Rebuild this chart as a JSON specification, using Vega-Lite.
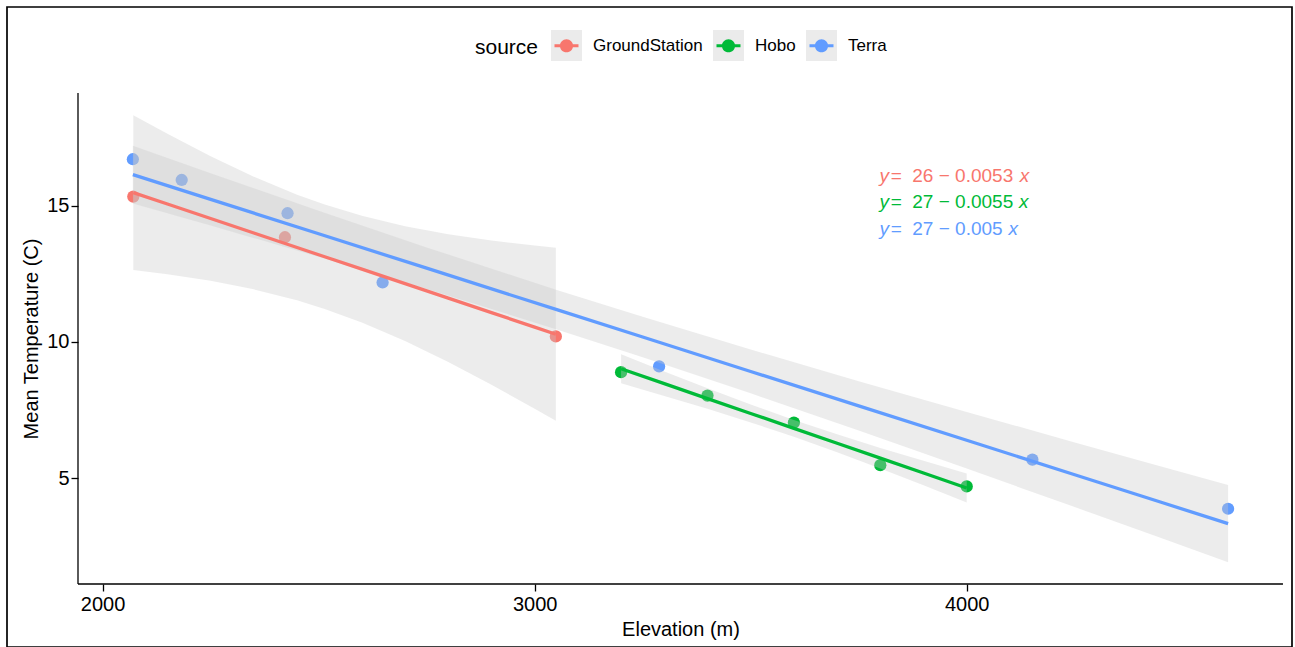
{
  "$schema": "https://vega.github.io/schema/vega-lite/v6.json",
  "width": 1285,
  "height": 640,
  "autosize": {"type": "none"},
  "padding": {"left": 7, "top": 7, "right": 3, "bottom": 0},
  "background": "white",
  "config": {
    "view": {"stroke": "black", "strokeWidth": 1.7},
    "font": "Liberation Sans",
    "axis": {
      "grid": false,
      "domain": false,
      "ticks": true,
      "tickColor": "black",
      "tickWidth": 1.3,
      "tickSize": 7,
      "labelFontSize": 20,
      "labelColor": "black",
      "labelFlush": false,
      "titleFontSize": 20,
      "titleFontWeight": "normal",
      "titleColor": "black"
    }
  },
  "datasets": {
    "points": [
      {"source": "GroundStation", "elevation": 2071, "temp": 15.33},
      {"source": "GroundStation", "elevation": 2422, "temp": 13.84},
      {"source": "GroundStation", "elevation": 3049, "temp": 10.2},
      {"source": "Hobo", "elevation": 3200, "temp": 8.89},
      {"source": "Hobo", "elevation": 3400, "temp": 8.03},
      {"source": "Hobo", "elevation": 3600, "temp": 7.04},
      {"source": "Hobo", "elevation": 3800, "temp": 5.48},
      {"source": "Hobo", "elevation": 4000, "temp": 4.7},
      {"source": "Terra", "elevation": 2070, "temp": 16.7},
      {"source": "Terra", "elevation": 2183, "temp": 15.94},
      {"source": "Terra", "elevation": 2428, "temp": 14.72},
      {"source": "Terra", "elevation": 2648, "temp": 12.18},
      {"source": "Terra", "elevation": 3288, "temp": 9.1},
      {"source": "Terra", "elevation": 4152, "temp": 5.68},
      {"source": "Terra", "elevation": 4605, "temp": 3.88}
    ],
    "fits": [
      {"source": "GroundStation", "elevation": 2071, "fit": 15.476, "lo": 12.637, "hi": 18.315},
      {"source": "GroundStation", "elevation": 2150, "fit": 15.057, "lo": 12.481, "hi": 17.633},
      {"source": "GroundStation", "elevation": 2250, "fit": 14.525, "lo": 12.239, "hi": 16.811},
      {"source": "GroundStation", "elevation": 2350, "fit": 13.994, "lo": 11.928, "hi": 16.06},
      {"source": "GroundStation", "elevation": 2450, "fit": 13.463, "lo": 11.525, "hi": 15.401},
      {"source": "GroundStation", "elevation": 2514, "fit": 13.123, "lo": 11.208, "hi": 15.038},
      {"source": "GroundStation", "elevation": 2600, "fit": 12.667, "lo": 10.71, "hi": 14.624},
      {"source": "GroundStation", "elevation": 2700, "fit": 12.136, "lo": 10.029, "hi": 14.243},
      {"source": "GroundStation", "elevation": 2800, "fit": 11.604, "lo": 9.259, "hi": 13.949},
      {"source": "GroundStation", "elevation": 2900, "fit": 11.073, "lo": 8.427, "hi": 13.719},
      {"source": "GroundStation", "elevation": 3000, "fit": 10.542, "lo": 7.549, "hi": 13.535},
      {"source": "GroundStation", "elevation": 3049, "fit": 10.282, "lo": 7.108, "hi": 13.456},
      {"source": "Hobo", "elevation": 3200, "fit": 9.014, "lo": 8.48, "hi": 9.548},
      {"source": "Hobo", "elevation": 3300, "fit": 8.468, "lo": 8.019, "hi": 8.917},
      {"source": "Hobo", "elevation": 3400, "fit": 7.921, "lo": 7.544, "hi": 8.298},
      {"source": "Hobo", "elevation": 3500, "fit": 7.375, "lo": 7.048, "hi": 7.702},
      {"source": "Hobo", "elevation": 3600, "fit": 6.828, "lo": 6.52, "hi": 7.136},
      {"source": "Hobo", "elevation": 3700, "fit": 6.282, "lo": 5.955, "hi": 6.609},
      {"source": "Hobo", "elevation": 3800, "fit": 5.735, "lo": 5.358, "hi": 6.112},
      {"source": "Hobo", "elevation": 3900, "fit": 5.189, "lo": 4.74, "hi": 5.638},
      {"source": "Hobo", "elevation": 4000, "fit": 4.642, "lo": 4.108, "hi": 5.176},
      {"source": "Terra", "elevation": 2070, "fit": 16.138, "lo": 15.08, "hi": 17.196},
      {"source": "Terra", "elevation": 2250, "fit": 15.229, "lo": 14.269, "hi": 16.189},
      {"source": "Terra", "elevation": 2500, "fit": 13.966, "lo": 13.122, "hi": 14.81},
      {"source": "Terra", "elevation": 2750, "fit": 12.704, "lo": 11.942, "hi": 13.466},
      {"source": "Terra", "elevation": 3053, "fit": 11.173, "lo": 10.449, "hi": 11.897},
      {"source": "Terra", "elevation": 3250, "fit": 10.179, "lo": 9.439, "hi": 10.919},
      {"source": "Terra", "elevation": 3500, "fit": 8.916, "lo": 8.112, "hi": 9.72},
      {"source": "Terra", "elevation": 3750, "fit": 7.653, "lo": 6.746, "hi": 8.56},
      {"source": "Terra", "elevation": 4000, "fit": 6.391, "lo": 5.353, "hi": 7.429},
      {"source": "Terra", "elevation": 4250, "fit": 5.128, "lo": 3.942, "hi": 6.314},
      {"source": "Terra", "elevation": 4450, "fit": 4.118, "lo": 2.804, "hi": 5.432},
      {"source": "Terra", "elevation": 4605, "fit": 3.335, "lo": 1.918, "hi": 4.752}
    ],
    "eqs": [
      {"source": "GroundStation", "rhs": "=\u00a0\u00a026 − 0.0053", "elevation": 3798, "temp": 15.86, "elevation_x": 4123},
      {"source": "Hobo", "rhs": "=\u00a0\u00a027 − 0.0055", "elevation": 3798, "temp": 14.9, "elevation_x": 4121},
      {"source": "Terra", "rhs": "=\u00a0\u00a027 − 0.005", "elevation": 3798, "temp": 13.93, "elevation_x": 4097}
    ]
  },
  "layer": [
    {
      "data": {"name": "points"},
      "mark": {"type": "square", "size": 10, "opacity": 0},
      "encoding": {
        "x": {"field": "elevation", "type": "quantitative", "scale": {"domain": [1778.67, 4752.9], "nice": false, "zero": false},
              "axis": {"title": "Elevation (m)", "values": [2000, 3000, 4000], "format": "d", "offset": -63, "ticks": true, "tickSize": 7, "tickColor": "black", "labelPadding": 3, "titlePadding": 5, "titleX": 673.5}},
        "y": {"field": "temp", "type": "quantitative", "scale": {"domain": [-1.191, 22.284], "nice": false, "zero": false},
              "axis": {"title": "Mean Temperature (C)", "values": [5, 10, 15], "offset": -71, "labelPadding": 2, "titlePadding": 5, "titleY": 331.5}},
        "fill": {"field": "source", "type": "nominal",
                 "scale": {"range": ["#EBEBEB", "#EBEBEB", "#EBEBEB"]},
                 "legend": {"orient": "none", "legendX": 544, "legendY": 23, "direction": "horizontal", "zindex": 1,
                            "title": null,
                            "labelFontSize": 17, "labelColor": "rgba(0,0,0,0)", "labelOffset": 11, "columnPadding": 10,
                            "symbolType": "square", "symbolSize": 961, "symbolStrokeWidth": 0, "symbolOpacity": 1}}
      }
    },
    {
      "data": {"name": "points"},
      "mark": {"type": "circle", "size": 150, "opacity": 1},
      "encoding": {
        "x": {"field": "elevation", "type": "quantitative"},
        "y": {"field": "temp", "type": "quantitative"},
        "color": {"field": "source", "type": "nominal",
                  "scale": {"domain": ["GroundStation", "Hobo", "Terra"], "range": ["#F8766D", "#00BA38", "#619CFF"]},
                  "legend": {"orient": "none", "legendX": 468, "legendY": 23, "direction": "horizontal", "zindex": 2,
                             "title": "source", "titleOrient": "left", "titleFontSize": 21, "titleFontWeight": "normal",
                             "titleColor": "black", "titlePadding": 12, "titleBaseline": "alphabetic", "titleAnchor": "end",
                             "labelFontSize": 17, "labelColor": "black", "labelOffset": 11, "columnPadding": 10,
                             "symbolType": "M-0.774,-0.103H0.774V0.103H-0.774Z M0.426,0A0.426,0.426,0,1,1,-0.426,0A0.426,0.426,0,1,1,0.426,0Z",
                             "symbolSize": 961, "symbolStrokeWidth": 0, "symbolOpacity": 1}}
      }
    },
    {
      "data": {"name": "fits"},
      "mark": {"type": "area", "color": "#C8C8C8", "opacity": 0.35},
      "encoding": {
        "x": {"field": "elevation", "type": "quantitative"},
        "y": {"field": "lo", "type": "quantitative"},
        "y2": {"field": "hi"},
        "detail": {"field": "source", "type": "nominal"}
      }
    },
    {
      "data": {"name": "fits"},
      "mark": {"type": "line", "strokeWidth": 3.3},
      "encoding": {
        "x": {"field": "elevation", "type": "quantitative"},
        "y": {"field": "fit", "type": "quantitative"},
        "color": {"field": "source", "type": "nominal", "legend": null}
      }
    },
    {
      "data": {"name": "eqs"},
      "mark": {"type": "text", "fontSize": 19, "fontStyle": "italic", "align": "left", "baseline": "alphabetic"},
      "encoding": {
        "x": {"field": "elevation", "type": "quantitative"},
        "y": {"field": "temp", "type": "quantitative"},
        "text": {"value": "y"},
        "color": {"field": "source", "type": "nominal", "legend": null}
      }
    },
    {
      "data": {"name": "eqs"},
      "mark": {"type": "text", "fontSize": 19, "align": "left", "baseline": "alphabetic", "dx": 11.2},
      "encoding": {
        "x": {"field": "elevation", "type": "quantitative"},
        "y": {"field": "temp", "type": "quantitative"},
        "text": {"field": "rhs"},
        "color": {"field": "source", "type": "nominal", "legend": null}
      }
    },
    {
      "data": {"name": "eqs"},
      "mark": {"type": "text", "fontSize": 19, "fontStyle": "italic", "align": "left", "baseline": "alphabetic"},
      "encoding": {
        "x": {"field": "elevation_x", "type": "quantitative"},
        "y": {"field": "temp", "type": "quantitative"},
        "text": {"value": "x"},
        "color": {"field": "source", "type": "nominal", "legend": null}
      }
    },
    {
      "data": {"values": [{}]},
      "mark": {"type": "rule", "color": "black", "strokeWidth": 1.3},
      "encoding": {
        "x": {"datum": 1943, "type": "quantitative"},
        "y": {"datum": 1.12, "type": "quantitative"},
        "y2": {"datum": 19.13}
      }
    },
    {
      "data": {"values": [{}]},
      "mark": {"type": "rule", "color": "black", "strokeWidth": 1.3},
      "encoding": {
        "x": {"datum": 1943, "type": "quantitative"},
        "x2": {"datum": 4732},
        "y": {"datum": 1.12, "type": "quantitative"}
      }
    }
  ]
}
